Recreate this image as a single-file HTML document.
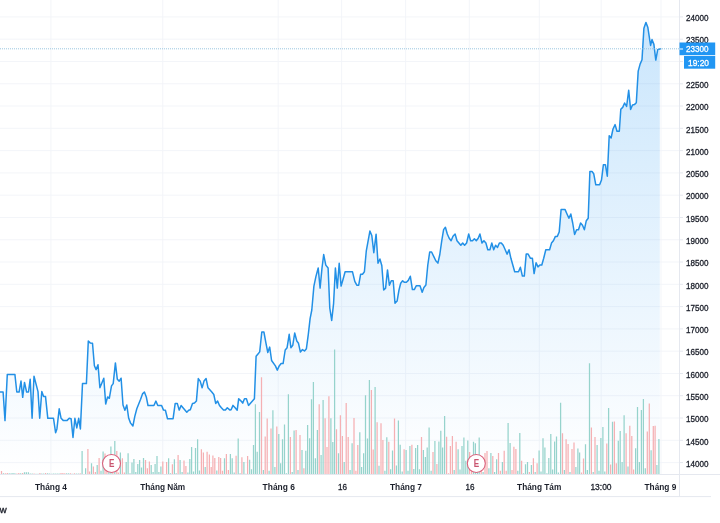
<!DOCTYPE html>
<html lang="vi"><head><meta charset="utf-8"><title>Chart</title>
<style>
html,body{margin:0;padding:0;background:#fff;}
body{width:720px;height:523px;overflow:hidden;position:relative;font-family:"Liberation Sans",sans-serif;}
svg{display:block;position:absolute;left:0;top:0}
svg text{font-family:"Liberation Sans",sans-serif;font-size:8.5px;fill:#1b1f2a;stroke:#1b1f2a;stroke-width:0.3px;}
svg text.b{font-weight:bold;font-size:9px;stroke:none;}
</style></head><body>
<svg width="720" height="523" viewBox="0 0 720 523">
<defs><linearGradient id="ag" gradientUnits="userSpaceOnUse" x1="0" y1="15" x2="0" y2="474">
<stop offset="0" stop-color="#2196f3" stop-opacity="0.24"/>
<stop offset="1" stop-color="#2196f3" stop-opacity="0"/>
</linearGradient></defs>
<rect width="720" height="523" fill="#fff"/>
<g stroke="#f2f4f8" stroke-width="0.9" fill="none"><path d="M50.9 0V474"/><path d="M162.8 0V474"/><path d="M278.2 0V474"/><path d="M341.6 0V474"/><path d="M405.6 0V474"/><path d="M469.3 0V474"/><path d="M539.3 0V474"/><path d="M601.2 0V474"/><path d="M661 0V474"/><path d="M0 16.9H679"/><path d="M0 39.2H679"/><path d="M0 61.5H679"/><path d="M0 83.8H679"/><path d="M0 106H679"/><path d="M0 128.3H679"/><path d="M0 150.6H679"/><path d="M0 172.9H679"/><path d="M0 195.2H679"/><path d="M0 217.5H679"/><path d="M0 239.8H679"/><path d="M0 262H679"/><path d="M0 284.3H679"/><path d="M0 306.6H679"/><path d="M0 328.9H679"/><path d="M0 351.2H679"/><path d="M0 373.5H679"/><path d="M0 395.7H679"/><path d="M0 418H679"/><path d="M0 440.3H679"/><path d="M0 462.6H679"/></g>
<path d="M0 392 L3.1 392 L5 420.6 L7.3 374.4 L14.9 374.4 L16.8 392 L19.1 392 L21 381.1 L22.7 397.3 L24.5 382.4 L26.6 392 L28.5 392 L30.2 379.2 L32.1 418.3 L34 376.3 L38 391.6 L39.7 418.3 L41.8 391.6 L43.6 396.4 L45.5 396.4 L47.8 418.3 L53.5 418.3 L55.6 432.7 L56.9 428.9 L59.2 408.8 L61.1 418.3 L63.4 420.6 L66.9 420.6 L69.2 418.3 L71.1 418.7 L73 437.5 L74.9 418.3 L76.8 427.9 L78.7 418.3 L80.4 428.9 L82.5 383.6 L86.4 383.6 L88.3 341 L90.2 342.9 L92.5 343.2 L94.4 365.8 L96.1 369.6 L98 364.8 L99.9 387.8 L103.8 378.2 L105.7 404 L107.6 396.9 L109.3 398.3 L111.5 385.9 L113.2 383.6 L115.4 362.9 L117.3 379.2 L119.2 381.1 L121.1 378.2 L123 405 L124.9 410.3 L126.8 405 L128.7 418.3 L130.6 423.1 L132.9 426 L134.8 416.4 L136.8 408.8 L138.7 404 L140.6 399.2 L142.5 393.9 L144.4 392 L146.3 396.9 L148 405.5 L153.9 405.5 L155.9 401.1 L157.8 405.5 L161.6 405.5 L163.5 410.1 L165.4 410.3 L167.5 418.7 L173.1 418.7 L175.2 403.4 L177.3 403.4 L179.2 410.1 L181.1 405.5 L183 407.8 L186.8 412.2 L188.7 410.3 L190.3 409.7 L192.5 403.4 L194.5 403.1 L196.4 401.1 L198.3 378.6 L200.2 381.1 L202.1 387.8 L204 381.1 L206.1 378.6 L208 387.8 L211.8 392 L213.8 394.5 L215.7 403.4 L217.6 401.1 L219.5 405.5 L221.4 407.8 L223.5 410.1 L225.4 410.1 L227.3 407.8 L230 410.1 L231.1 409.8 L233 405.4 L234.9 407.5 L237.2 410.2 L238.7 398.7 L240.6 400.6 L242.7 403.1 L244.5 398.7 L246.4 398.7 L248.5 405.4 L254.4 398.7 L256.1 356.3 L258 354 L259.7 351.9 L261.8 332 L263.9 332 L265.9 342.9 L267.8 352.5 L269.7 347.1 L271.6 360.5 L275.4 365.9 L277.3 370.1 L279.2 365.9 L281.1 363.6 L283.1 363.6 L285.2 350 L287.1 347.7 L289.2 334.3 L290.9 347.7 L292.8 345.2 L294.7 333 L296.8 341 L298.5 343.3 L300.4 352.1 L302.5 349.6 L304.5 351 L306.4 348.7 L308.3 334.3 L310.1 318.6 L311.8 310 L313.9 286.1 L315.9 276.6 L318.2 268 L320.1 288.1 L322 268 L323.7 254.6 L325.8 265.1 L328.1 268 L329.8 308.1 L331.7 320.5 L333.6 303.3 L335.4 268 L337.3 288.1 L339.2 263.2 L341.1 286.1 L343 279.5 L345.1 271.8 L352.5 271.8 L354.8 281.4 L356.8 285.2 L358.7 285.2 L360.6 274.3 L362.5 274.3 L364.4 271.8 L366.3 250.8 L369.9 231.1 L371.8 235.5 L373.8 252.7 L376.1 234.2 L378 263.2 L379.9 259 L381.8 265.5 L383.7 290 L385.6 288.1 L387.5 269.9 L389.4 285.2 L391.3 280.8 L393.2 280.8 L395 303.3 L397.1 301.1 L399 290 L400.7 283.3 L402.6 280.8 L404.5 282.3 L406.4 282.3 L408.3 280.4 L410.3 276.2 L412.4 289.6 L414.3 289.6 L416.2 285.8 L420 285.8 L422.2 292.3 L423.9 287.5 L425.9 285 L427.8 265 L429.7 252 L431.6 252 L433.7 256.4 L435.8 260.8 L437.9 263.1 L439.8 254.5 L441.7 241.1 L443.6 229.6 L445.4 227.3 L447.3 234 L449.2 238.2 L451.1 240.7 L453 236.3 L455.1 234 L457 240.7 L458.9 243 L460.8 245.3 L462.7 243 L464.6 245.3 L466.6 243 L468.7 234 L470.6 240.7 L472.5 240.7 L474.4 238.8 L476.3 240.7 L478.2 238.2 L479.9 234 L482 243 L483.9 240.7 L485.9 243 L487.8 249.7 L489.9 249.7 L491.8 243 L493.7 249.7 L495.6 245.3 L497.5 247.4 L499.4 243 L501.3 243 L503.2 245.3 L505.2 249.7 L507.1 254.1 L509 249.7 L510.9 258.3 L512.8 265 L514.7 271.7 L518.5 271.7 L520.4 267.3 L522.4 276.1 L524.3 276.1 L526.2 254.1 L528.1 254.1 L530.5 258.3 L532.4 258.3 L534.1 273.6 L536.1 262.7 L538 266.9 L539.9 265 L541.8 265 L543.7 258.3 L545.8 249.7 L549.6 249.7 L551.5 243.1 L553.4 240.8 L555.4 236.4 L557.3 236.4 L559.2 232 L561.1 209.6 L565.1 209.6 L567 214 L568.9 218.2 L570.8 214 L572.7 223 L574.6 234.5 L576.6 229.7 L578.5 229.7 L580.6 223 L582.5 225.3 L584.4 229.7 L586.3 220.7 L588.2 218.2 L589.9 171.4 L592 171.4 L593.7 173.7 L595.8 184.8 L599.6 184.8 L601.5 180 L603.4 164.7 L605.4 164.7 L607.3 176.2 L609.2 135.7 L611.1 138 L613 129 L615.1 124.6 L617 131.3 L619.3 131.3 L620.8 109.3 L622.7 107.4 L624.6 103 L626.6 106.5 L628.7 90.3 L630.6 109.4 L632.5 105 L634.4 104.6 L636.3 102.7 L638.2 71.1 L640.1 64.1 L642 59.7 L643.9 28.2 L645.9 22.4 L647.8 27.2 L649.7 39.6 L650.6 45.4 L652 39.6 L653.9 44.4 L655.8 60.1 L657.7 49.6 L659.8 48.8 L659.8 474.5 L0 474.5 Z" fill="url(#ag)"/>
<path d="M3.4 474.5V473.3M9.2 474.5V473.3M11.1 474.5V473.3M13 474.5V473M14.9 474.5V473.3M20.7 474.5V473.3M24.5 474.5V472.3M26.4 474.5V472.3M28.4 474.5V472.3M30.3 474.5V473.5M32.2 474.5V473.5M36 474.5V473.7M38 474.5V473.7M41.8 474.5V473.5M43.7 474.5V473.5M47.6 474.5V473.3M49.5 474.5V473.5M51.4 474.5V473.7M53.3 474.5V473.5M55.2 474.5V473.5M57.2 474.5V473.5M59.1 474.5V473.5M66.7 474.5V473.3M68.7 474.5V473.3M72.5 474.5V473.7M76.3 474.5V473.5M78.3 474.5V473.5M82.1 474.5V451M85.6 474.5V468.2M91.5 474.5V463.2M97.2 474.5V465.1M101 474.5V470.8M103.1 474.5V451.6M108.9 474.5V464.5M110.9 474.5V446.4M114.8 474.5V441M120.4 474.5V452.6M126.2 474.5V462M128.1 474.5V453.2M130 474.5V473.2M132 474.5V462.6M133.9 474.5V458.9M135.8 474.5V472M137.8 474.5V463.9M139.6 474.5V460.1M141.5 474.5V467.6M143.5 474.5V458M151.2 474.5V465.1M153.1 474.5V472M155.1 474.5V463.9M157 474.5V456M158.9 474.5V472M160.9 474.5V466.4M168.6 474.5V458.2M170.5 474.5V473.2M174.4 474.5V459.2M176.2 474.5V473.2M180.1 474.5V460.1M182.1 474.5V472M187.9 474.5V472.6M189.8 474.5V458.9M191.6 474.5V447M193.5 474.5V471.4M195.5 474.5V448M197.6 474.5V439.2M199.5 474.5V470.5M205.2 474.5V467M216.8 474.5V470.5M224.5 474.5V458.2M230.4 474.5V453.9M232.2 474.5V458.2M234.2 474.5V472.6M238.2 474.5V438.5M240.1 474.5V473.2M243.9 474.5V462M245.8 474.5V473.7M249.6 474.5V459.8M251.5 474.5V469.2M253.5 474.5V445.1M255.4 474.5V404.3M257.2 474.5V451.8M259.5 474.5V411.9M263.4 474.5V470.1M269.1 474.5V470.8M272.9 474.5V410.2M274.9 474.5V467M278.8 474.5V433.9M280.6 474.5V463.2M282.5 474.5V439.2M284.5 474.5V424.5M286.4 474.5V473.2M288.4 474.5V394.2M292.2 474.5V472M294.1 474.5V430.5M298 474.5V470.1M302 474.5V450.1M305.8 474.5V450.8M307.6 474.5V425.1M309.6 474.5V438.2M311.5 474.5V399.3M313.4 474.5V382.1M315.4 474.5V458.2M317.4 474.5V430.1M321.1 474.5V455.1M323.1 474.5V400M330.9 474.5V418.2M332.8 474.5V442M334.6 474.5V349.5M338.5 474.5V453.2M344.2 474.5V462M350.1 474.5V470.1M352.1 474.5V443.2M359.8 474.5V432.2M361.6 474.5V467M363.6 474.5V453.2M365.5 474.5V395.2M367.5 474.5V438.5M369.4 474.5V380M375.1 474.5V386.9M379 474.5V465.8M384.9 474.5V470.8M386.8 474.5V437.2M390.6 474.5V469.2M392.5 474.5V450.5M396.4 474.5V465.5M398.4 474.5V420.5M400.2 474.5V444.8M402.2 474.5V471.4M406.1 474.5V450.1M408 474.5V470.8M409.9 474.5V446M413.8 474.5V468.9M415.6 474.5V448M417.6 474.5V445.1M419.5 474.5V469.2M423.4 474.5V449.9M425.4 474.5V457M427.2 474.5V447.6M429.1 474.5V427.6M431.1 474.5V470.8M434.9 474.5V441M438.9 474.5V441.4M440.8 474.5V430.8M442.6 474.5V447.6M444.6 474.5V416M454.2 474.5V470.1M458.1 474.5V449.2M460 474.5V469.5M462 474.5V446M463.9 474.5V437.6M465.8 474.5V460.8M467.8 474.5V440.5M473.5 474.5V441.8M475.4 474.5V443.2M477.4 474.5V467M479.2 474.5V437.6M483.1 474.5V472M488.9 474.5V468.2M490.9 474.5V453M494.6 474.5V472M496.6 474.5V459.2M502.4 474.5V462M508.1 474.5V423M510.1 474.5V443M517.8 474.5V470.8M519.8 474.5V432.9M523.5 474.5V473.2M525.5 474.5V464.2M527.5 474.5V462M531.4 474.5V464.9M535.2 474.5V472M539.1 474.5V450.5M541 474.5V471.4M543 474.5V438.2M544.9 474.5V447.4M546.9 474.5V473.2M548.8 474.5V458M550.8 474.5V434.1M552.6 474.5V469.5M554.6 474.5V441.4M556.5 474.5V436.4M558.4 474.5V472.6M560.6 474.5V402.7M564.4 474.5V470.1M570 474.5V472M575.9 474.5V467M577.9 474.5V448.6M579.6 474.5V452.4M585.5 474.5V444.2M587.4 474.5V470.1M589.5 474.5V363.2M593.2 474.5V472M597.1 474.5V445.1M599 474.5V470.8M600.9 474.5V438M602.9 474.5V427M604.8 474.5V471.4M608.6 474.5V407.9M612.5 474.5V421.8M618.3 474.5V440.7M620.2 474.5V431.1M622.1 474.5V461.9M624.1 474.5V415.3M628 474.5V466.5M635.6 474.5V448.2M637.5 474.5V407M639.4 474.5V461.9M641.4 474.5V410M643.4 474.5V399.1M645.3 474.5V468.2M651.1 474.5V450.2M656.9 474.5V464.9M658.9 474.5V439.1" stroke="#96d3cc" stroke-width="1.25" fill="none"/>
<path d="M1.5 474.5V471M5.3 474.5V473.3M7.3 474.5V473M16.9 474.5V473.5M18.8 474.5V473M22.6 474.5V473M34.1 474.5V473.5M39.9 474.5V473M45.6 474.5V473M61 474.5V473M62.9 474.5V473M64.8 474.5V473.3M70.6 474.5V473.3M74.4 474.5V473.3M80.2 474.5V473.3M87.9 474.5V448.9M89.6 474.5V471.4M93.4 474.5V466.4M95.4 474.5V472M99.1 474.5V458M105 474.5V453.5M106.9 474.5V467M112.8 474.5V454.5M116.8 474.5V451M118.5 474.5V472.6M122.4 474.5V458.2M124.4 474.5V472.6M145.5 474.5V460.1M147.4 474.5V468.2M149.4 474.5V461.4M162.8 474.5V461.4M166.6 474.5V462M172.4 474.5V464.2M178.1 474.5V455.1M184 474.5V460.4M185.9 474.5V466M201.4 474.5V449.2M203.4 474.5V452.4M207.1 474.5V451.8M209.4 474.5V454.5M211.2 474.5V467M212.9 474.5V455.5M214.8 474.5V458M218.8 474.5V457M220.6 474.5V458M222.5 474.5V470.8M226.4 474.5V453.9M228.4 474.5V470.1M236.1 474.5V455.8M241.9 474.5V457.2M247.6 474.5V456M261.5 474.5V377.3M265.2 474.5V436.4M267.2 474.5V418.5M271 474.5V428.5M276.8 474.5V426.4M290.4 474.5V437M296.1 474.5V429.9M300 474.5V435.1M303.9 474.5V468.2M319.2 474.5V404.3M325.1 474.5V418.2M327 474.5V447M328.9 474.5V396.3M336.5 474.5V429.2M340.4 474.5V415.2M342.4 474.5V436M346.2 474.5V403.1M348.2 474.5V437M354 474.5V418.1M355.9 474.5V470.8M357.8 474.5V445.1M371.4 474.5V390M373.2 474.5V449.5M377.1 474.5V422.2M381 474.5V423.2M382.9 474.5V440.1M388.8 474.5V441.8M394.5 474.5V418.5M404.1 474.5V449.2M411.9 474.5V444.8M421.5 474.5V437M433 474.5V452M436.9 474.5V463.9M446.6 474.5V436.8M448.5 474.5V473.2M450.4 474.5V446M452.4 474.5V436M456.1 474.5V441.8M469.6 474.5V452M471.6 474.5V467M481.2 474.5V469.5M485 474.5V453M487 474.5V451M492.8 474.5V456M498.5 474.5V453M500.4 474.5V470.8M504.2 474.5V450.8M506.2 474.5V470.8M512 474.5V470.1M513.9 474.5V446.8M515.9 474.5V448.9M521.6 474.5V460.8M529.4 474.5V472M533.4 474.5V458.2M537.1 474.5V463.2M562.5 474.5V433.2M566.1 474.5V439.2M568.1 474.5V443.9M572 474.5V449.1M574 474.5V442.4M581.5 474.5V472.6M583.5 474.5V458.6M591.4 474.5V427.6M595 474.5V437M606.8 474.5V443.5M610.6 474.5V464.5M614.4 474.5V421.4M616.3 474.5V463.2M626.1 474.5V433.3M629.8 474.5V425.8M631.8 474.5V436.1M633.6 474.5V469.5M647.3 474.5V431.6M649.3 474.5V403.6M653.3 474.5V426.1M655.1 474.5V425.8" stroke="#f5b0b3" stroke-width="1.25" fill="none"/>
<path d="M0 392 L3.1 392 L5 420.6 L7.3 374.4 L14.9 374.4 L16.8 392 L19.1 392 L21 381.1 L22.7 397.3 L24.5 382.4 L26.6 392 L28.5 392 L30.2 379.2 L32.1 418.3 L34 376.3 L38 391.6 L39.7 418.3 L41.8 391.6 L43.6 396.4 L45.5 396.4 L47.8 418.3 L53.5 418.3 L55.6 432.7 L56.9 428.9 L59.2 408.8 L61.1 418.3 L63.4 420.6 L66.9 420.6 L69.2 418.3 L71.1 418.7 L73 437.5 L74.9 418.3 L76.8 427.9 L78.7 418.3 L80.4 428.9 L82.5 383.6 L86.4 383.6 L88.3 341 L90.2 342.9 L92.5 343.2 L94.4 365.8 L96.1 369.6 L98 364.8 L99.9 387.8 L103.8 378.2 L105.7 404 L107.6 396.9 L109.3 398.3 L111.5 385.9 L113.2 383.6 L115.4 362.9 L117.3 379.2 L119.2 381.1 L121.1 378.2 L123 405 L124.9 410.3 L126.8 405 L128.7 418.3 L130.6 423.1 L132.9 426 L134.8 416.4 L136.8 408.8 L138.7 404 L140.6 399.2 L142.5 393.9 L144.4 392 L146.3 396.9 L148 405.5 L153.9 405.5 L155.9 401.1 L157.8 405.5 L161.6 405.5 L163.5 410.1 L165.4 410.3 L167.5 418.7 L173.1 418.7 L175.2 403.4 L177.3 403.4 L179.2 410.1 L181.1 405.5 L183 407.8 L186.8 412.2 L188.7 410.3 L190.3 409.7 L192.5 403.4 L194.5 403.1 L196.4 401.1 L198.3 378.6 L200.2 381.1 L202.1 387.8 L204 381.1 L206.1 378.6 L208 387.8 L211.8 392 L213.8 394.5 L215.7 403.4 L217.6 401.1 L219.5 405.5 L221.4 407.8 L223.5 410.1 L225.4 410.1 L227.3 407.8 L230 410.1 L231.1 409.8 L233 405.4 L234.9 407.5 L237.2 410.2 L238.7 398.7 L240.6 400.6 L242.7 403.1 L244.5 398.7 L246.4 398.7 L248.5 405.4 L254.4 398.7 L256.1 356.3 L258 354 L259.7 351.9 L261.8 332 L263.9 332 L265.9 342.9 L267.8 352.5 L269.7 347.1 L271.6 360.5 L275.4 365.9 L277.3 370.1 L279.2 365.9 L281.1 363.6 L283.1 363.6 L285.2 350 L287.1 347.7 L289.2 334.3 L290.9 347.7 L292.8 345.2 L294.7 333 L296.8 341 L298.5 343.3 L300.4 352.1 L302.5 349.6 L304.5 351 L306.4 348.7 L308.3 334.3 L310.1 318.6 L311.8 310 L313.9 286.1 L315.9 276.6 L318.2 268 L320.1 288.1 L322 268 L323.7 254.6 L325.8 265.1 L328.1 268 L329.8 308.1 L331.7 320.5 L333.6 303.3 L335.4 268 L337.3 288.1 L339.2 263.2 L341.1 286.1 L343 279.5 L345.1 271.8 L352.5 271.8 L354.8 281.4 L356.8 285.2 L358.7 285.2 L360.6 274.3 L362.5 274.3 L364.4 271.8 L366.3 250.8 L369.9 231.1 L371.8 235.5 L373.8 252.7 L376.1 234.2 L378 263.2 L379.9 259 L381.8 265.5 L383.7 290 L385.6 288.1 L387.5 269.9 L389.4 285.2 L391.3 280.8 L393.2 280.8 L395 303.3 L397.1 301.1 L399 290 L400.7 283.3 L402.6 280.8 L404.5 282.3 L406.4 282.3 L408.3 280.4 L410.3 276.2 L412.4 289.6 L414.3 289.6 L416.2 285.8 L420 285.8 L422.2 292.3 L423.9 287.5 L425.9 285 L427.8 265 L429.7 252 L431.6 252 L433.7 256.4 L435.8 260.8 L437.9 263.1 L439.8 254.5 L441.7 241.1 L443.6 229.6 L445.4 227.3 L447.3 234 L449.2 238.2 L451.1 240.7 L453 236.3 L455.1 234 L457 240.7 L458.9 243 L460.8 245.3 L462.7 243 L464.6 245.3 L466.6 243 L468.7 234 L470.6 240.7 L472.5 240.7 L474.4 238.8 L476.3 240.7 L478.2 238.2 L479.9 234 L482 243 L483.9 240.7 L485.9 243 L487.8 249.7 L489.9 249.7 L491.8 243 L493.7 249.7 L495.6 245.3 L497.5 247.4 L499.4 243 L501.3 243 L503.2 245.3 L505.2 249.7 L507.1 254.1 L509 249.7 L510.9 258.3 L512.8 265 L514.7 271.7 L518.5 271.7 L520.4 267.3 L522.4 276.1 L524.3 276.1 L526.2 254.1 L528.1 254.1 L530.5 258.3 L532.4 258.3 L534.1 273.6 L536.1 262.7 L538 266.9 L539.9 265 L541.8 265 L543.7 258.3 L545.8 249.7 L549.6 249.7 L551.5 243.1 L553.4 240.8 L555.4 236.4 L557.3 236.4 L559.2 232 L561.1 209.6 L565.1 209.6 L567 214 L568.9 218.2 L570.8 214 L572.7 223 L574.6 234.5 L576.6 229.7 L578.5 229.7 L580.6 223 L582.5 225.3 L584.4 229.7 L586.3 220.7 L588.2 218.2 L589.9 171.4 L592 171.4 L593.7 173.7 L595.8 184.8 L599.6 184.8 L601.5 180 L603.4 164.7 L605.4 164.7 L607.3 176.2 L609.2 135.7 L611.1 138 L613 129 L615.1 124.6 L617 131.3 L619.3 131.3 L620.8 109.3 L622.7 107.4 L624.6 103 L626.6 106.5 L628.7 90.3 L630.6 109.4 L632.5 105 L634.4 104.6 L636.3 102.7 L638.2 71.1 L640.1 64.1 L642 59.7 L643.9 28.2 L645.9 22.4 L647.8 27.2 L649.7 39.6 L650.6 45.4 L652 39.6 L653.9 44.4 L655.8 60.1 L657.7 49.6 L660.6 48.8" fill="none" stroke="#2290e6" stroke-width="1.5" stroke-linejoin="round" stroke-linecap="round"/>
<path d="M0 48.8H679" stroke="#86bbd9" stroke-width="0.85" stroke-dasharray="1 1" fill="none"/>
<g fill="#fff" stroke="#da607b" stroke-width="1.1">
<circle cx="111.5" cy="463.5" r="9"/><circle cx="476.3" cy="463.5" r="9"/></g>
<g style="font-size:9px;font-weight:bold;fill:#d04a68;stroke:none" text-anchor="middle">
<text x="111.6" y="467.1" textLength="5.4" lengthAdjust="spacingAndGlyphs" style="font-size:10px;font-weight:bold;fill:#c9546f;stroke:none">E</text><text x="476.4" y="467.1" textLength="5.4" lengthAdjust="spacingAndGlyphs" style="font-size:10px;font-weight:bold;fill:#c9546f;stroke:none">E</text></g>
<g stroke="#e5e8ef" stroke-width="1" fill="none">
<path d="M0 474.5H720"/><path d="M679.5 0V497"/><path d="M0 496.6H711"/><path d="M679.5 16.9h3.5"/><path d="M679.5 39.2h3.5"/><path d="M679.5 61.5h3.5"/><path d="M679.5 83.8h3.5"/><path d="M679.5 106h3.5"/><path d="M679.5 128.3h3.5"/><path d="M679.5 150.6h3.5"/><path d="M679.5 172.9h3.5"/><path d="M679.5 195.2h3.5"/><path d="M679.5 217.5h3.5"/><path d="M679.5 239.8h3.5"/><path d="M679.5 262h3.5"/><path d="M679.5 284.3h3.5"/><path d="M679.5 306.6h3.5"/><path d="M679.5 328.9h3.5"/><path d="M679.5 351.2h3.5"/><path d="M679.5 373.5h3.5"/><path d="M679.5 395.7h3.5"/><path d="M679.5 418h3.5"/><path d="M679.5 440.3h3.5"/><path d="M679.5 462.6h3.5"/></g>
<g><text x="686" y="21.1" textLength="22.5" lengthAdjust="spacingAndGlyphs" style="font-size:9px">24000</text><text x="686" y="43.4" textLength="22.5" lengthAdjust="spacingAndGlyphs" style="font-size:9px">23500</text><text x="686" y="65.7" textLength="22.5" lengthAdjust="spacingAndGlyphs" style="font-size:9px">23000</text><text x="686" y="88" textLength="22.5" lengthAdjust="spacingAndGlyphs" style="font-size:9px">22500</text><text x="686" y="110.2" textLength="22.5" lengthAdjust="spacingAndGlyphs" style="font-size:9px">22000</text><text x="686" y="132.5" textLength="22.5" lengthAdjust="spacingAndGlyphs" style="font-size:9px">21500</text><text x="686" y="154.8" textLength="22.5" lengthAdjust="spacingAndGlyphs" style="font-size:9px">21000</text><text x="686" y="177.1" textLength="22.5" lengthAdjust="spacingAndGlyphs" style="font-size:9px">20500</text><text x="686" y="199.4" textLength="22.5" lengthAdjust="spacingAndGlyphs" style="font-size:9px">20000</text><text x="686" y="221.7" textLength="22.5" lengthAdjust="spacingAndGlyphs" style="font-size:9px">19500</text><text x="686" y="244" textLength="22.5" lengthAdjust="spacingAndGlyphs" style="font-size:9px">19000</text><text x="686" y="266.2" textLength="22.5" lengthAdjust="spacingAndGlyphs" style="font-size:9px">18500</text><text x="686" y="288.5" textLength="22.5" lengthAdjust="spacingAndGlyphs" style="font-size:9px">18000</text><text x="686" y="310.8" textLength="22.5" lengthAdjust="spacingAndGlyphs" style="font-size:9px">17500</text><text x="686" y="333.1" textLength="22.5" lengthAdjust="spacingAndGlyphs" style="font-size:9px">17000</text><text x="686" y="355.4" textLength="22.5" lengthAdjust="spacingAndGlyphs" style="font-size:9px">16500</text><text x="686" y="377.7" textLength="22.5" lengthAdjust="spacingAndGlyphs" style="font-size:9px">16000</text><text x="686" y="399.9" textLength="22.5" lengthAdjust="spacingAndGlyphs" style="font-size:9px">15500</text><text x="686" y="422.2" textLength="22.5" lengthAdjust="spacingAndGlyphs" style="font-size:9px">15000</text><text x="686" y="444.5" textLength="22.5" lengthAdjust="spacingAndGlyphs" style="font-size:9px">14500</text><text x="686" y="466.8" textLength="22.5" lengthAdjust="spacingAndGlyphs" style="font-size:9px">14000</text></g>
<g><text x="35" y="490.4" textLength="32" lengthAdjust="spacingAndGlyphs" class="b">Tháng 4</text><text x="140.2" y="490.4" textLength="45" lengthAdjust="spacingAndGlyphs" class="b">Tháng Năm</text><text x="262.6" y="490.4" textLength="32.3" lengthAdjust="spacingAndGlyphs" class="b">Tháng 6</text><text x="338" y="490.4" textLength="9" lengthAdjust="spacingAndGlyphs" style="font-size:9px">16</text><text x="390" y="490.4" textLength="32" lengthAdjust="spacingAndGlyphs" class="b">Tháng 7</text><text x="465.5" y="490.4" textLength="9" lengthAdjust="spacingAndGlyphs" style="font-size:9px">16</text><text x="517.1" y="490.4" textLength="44.2" lengthAdjust="spacingAndGlyphs" class="b">Tháng Tám</text><text x="590.4" y="490.4" textLength="21.2" lengthAdjust="spacingAndGlyphs" style="font-size:9px">13:00</text><text x="644.5" y="490.4" textLength="31.8" lengthAdjust="spacingAndGlyphs" class="b">Tháng 9</text></g>
<rect x="679.5" y="42.5" width="35.7" height="12.7" fill="#2196f3"/>
<rect x="684" y="56" width="31.2" height="12.7" fill="#2196f3"/>
<path d="M679.5 49h3.5" stroke="#fff" stroke-width="1"/>
<text x="686" y="52.4" textLength="22.5" lengthAdjust="spacingAndGlyphs" style="fill:#fff;stroke:#fff;font-size:9px">23300</text>
<text x="688" y="65.8" textLength="21" lengthAdjust="spacingAndGlyphs" style="fill:#fff;stroke:#fff;font-size:9px">19:20</text>
<text x="-0.2" y="513.1" style="font-size:9.6px;stroke-width:0.35px">w</text>
</svg>
</body></html>
